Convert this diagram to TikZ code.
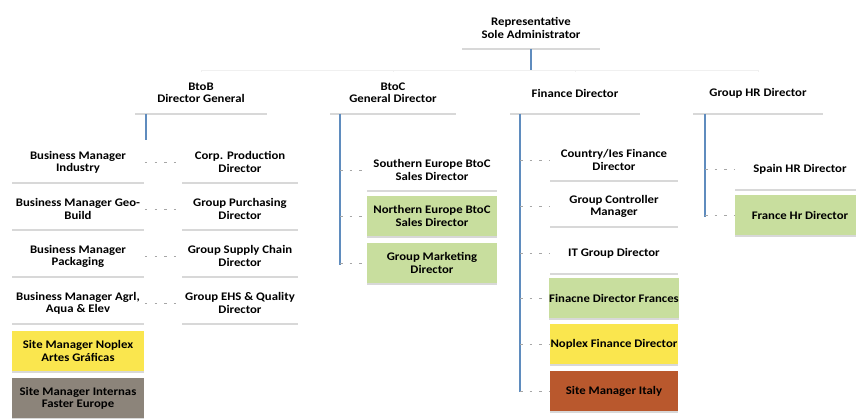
\documentclass[tikz,border=0pt]{standalone}
\usepackage{fontspec}
\setmainfont{Carlito}[FakeStretch=1.1]
\usetikzlibrary{positioning,shadows}

\definecolor{boxgreen}{RGB}{200,222,158}
\definecolor{boxyellow}{RGB}{250,230,78}
\definecolor{boxtaupe}{RGB}{140,132,122}
\definecolor{boxbrown}{RGB}{185,88,45}
\definecolor{linkblue}{RGB}{95,140,190}

\tikzset{
	box/.style={rectangle, fill=white, align=center, inner xsep=0pt, inner ysep=1pt,
		minimum height=0.82cm, font=\fontsize{6.6}{6.9}\selectfont\bfseries,
		drop shadow={shadow xshift=0pt, shadow yshift=-0.9pt, opacity=0.3, fill=gray}},
	link/.style={linkblue, line width=0.6pt},
	bus/.style={gray!12, line width=0.4pt},
	stub/.style={gray!70, dashed, dash pattern=on 1.5pt off 4pt, line width=0.4pt}
}

\begin{document}
\begin{tikzpicture}[x=0.02cm, y=-0.02cm]
	\useasboundingbox (0,0) rectangle (856,419);
	\fill[white] (0,0) rectangle (856,419);

	\begin{scope}[every node/.style={box}]
		% Top
		\node[minimum width=2.76cm] (admin) at (531,28) {Representative\\Sole Administrator};

		% Directors
		\node[minimum width=2.66cm] (btob)    at (201,93) {BtoB\\Director General};
		\node[minimum width=2.54cm] (btoc)    at (393,93) {BtoC\\General Director};
		\node[minimum width=2.60cm] (finance) at (575,93) {Finance Director};
		\node[minimum width=2.60cm] (hr)      at (758,93) {Group HR Director};

		% BtoB, left column
		\node[minimum width=2.66cm] (bmind)  at (78,162) {Business Manager\\Industry};
		\node[minimum width=2.66cm] (bmgeo)  at (78,209) {Business Manager Geo-\\Build};
		\node[minimum width=2.66cm] (bmpack) at (78,256) {Business Manager\\Packaging};
		\node[minimum width=2.66cm] (bmagrl) at (78,303) {Business Manager Agrl,\\Aqua \& Elev};
		\node[minimum width=2.66cm, fill=boxyellow] (smnoplex) at (78,351) {Site Manager Noplex\\Artes Gráficas};
		\node[minimum width=2.66cm, fill=boxtaupe]  (sminter)  at (78,398) {Site Manager Internas\\Faster Europe};

		% BtoB, right column
		\node[minimum width=2.32cm] (corpprod) at (240,162) {Corp. Production\\Director};
		\node[minimum width=2.32cm] (grpurch)  at (240,209) {Group Purchasing\\Director};
		\node[minimum width=2.32cm] (grsupply) at (240,256) {Group Supply Chain\\Director};
		\node[minimum width=2.32cm] (grehs)    at (240,303) {Group EHS \& Quality\\Director};

		% BtoC
		\node[minimum width=2.62cm] (sebtoc) at (432,170) {Southern Europe BtoC\\Sales Director};
		\node[minimum width=2.62cm, fill=boxgreen] (nebtoc) at (432,216) {Northern Europe BtoC\\Sales Director};
		\node[minimum width=2.62cm, fill=boxgreen] (grmark) at (432,263) {Group Marketing\\Director};

		% Finance
		\node[minimum width=2.56cm] (cfin)   at (614,160) {Country/Ies Finance\\Director};
		\node[minimum width=2.56cm] (grctrl) at (614,206) {Group Controller\\Manager};
		\node[minimum width=2.56cm] (itdir)  at (614,253) {IT Group Director};
		\node[minimum width=2.56cm, fill=boxgreen]  (finfr)    at (614,298) {Finacne Director Frances};
		\node[minimum width=2.56cm, fill=boxyellow] (finnoplex) at (614,344) {Noplex Finance Director};
		\node[minimum width=2.56cm, fill=boxbrown]  (smitaly)  at (614,391) {Site Manager Italy};

		% HR
		\node[minimum width=2.60cm] (hrspain) at (800,169) {Spain HR Director};
		\node[minimum width=2.60cm, fill=boxgreen] (hrfrance) at (800,215) {France Hr Director};
	\end{scope}

	% Top to directors
	\coordinate (topbus) at (531,70);
	\draw[link] (admin) -- (topbus);
	\draw[bus] (topbus) -| (btob);
	\draw[bus] (topbus) -| (btoc);
	\draw[bus] (topbus) -| (finance);
	\draw[bus] (topbus) -| (hr);

	% BtoB branch
	\coordinate (btobend) at (146,140);
	\draw[link] (btob.south -| btobend) -- (btobend);
	\draw[stub] (bmind) -- (corpprod);
	\draw[stub] (bmgeo) -- (grpurch);
	\draw[stub] (bmpack) -- (grsupply);
	\draw[stub] (bmagrl) -- (grehs);

	% BtoC branch
	\coordinate (btocend) at (340,265);
	\draw[link] (btoc.south -| btocend) -- (btocend);
	\draw[stub] (btocend |- sebtoc) -- (sebtoc);
	\draw[stub] (btocend |- nebtoc) -- (nebtoc);
	\draw[stub] (btocend |- grmark) -- (grmark);

	% Finance branch
	\coordinate (finend) at (520,392);
	\draw[link] (finance.south -| finend) -- (finend);
	\foreach \n in {cfin,grctrl,itdir,finfr,finnoplex,smitaly}
		\draw[stub] (finend |- \n) -- (\n);

	% HR branch
	\coordinate (hrend) at (705,217);
	\draw[link] (hr.south -| hrend) -- (hrend);
	\draw[stub] (hrend |- hrspain) -- (hrspain);
	\draw[stub] (hrend |- hrfrance) -- (hrfrance);
\end{tikzpicture}
\end{document}
